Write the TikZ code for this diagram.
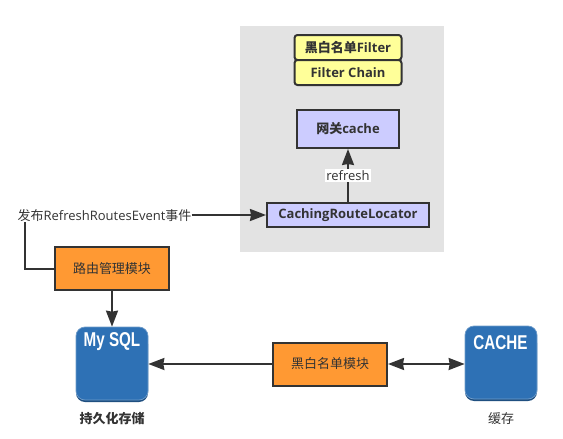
\documentclass[tikz,border=0pt]{standalone}
\usepackage{fontspec}
\usetikzlibrary{arrows.meta,positioning}
\setmainfont{Open Sans}
\newfontfamily\cjk{Noto Sans CJK SC}
\newfontfamily\capfont{Liberation Sans}
\definecolor{ink}{HTML}{333333}
\definecolor{panelgray}{HTML}{E3E3E3}
\definecolor{yel}{HTML}{FFFF99}
\definecolor{lav}{HTML}{CCCCFF}
\definecolor{org}{HTML}{FF9933}
\definecolor{iconblue}{HTML}{2E71B5}
\definecolor{icondark}{HTML}{1F4F80}
\definecolor{iconedge}{HTML}{6F9CC9}
\tikzset{
  x=1pt,y=-1pt,
  box/.style={draw=ink,line width=2pt,inner sep=0pt,anchor=center,text=ink,font=\bfseries\fontsize{13}{15}\selectfont,align=center},
  yelbox/.style={box,fill=yel,rounded corners=3pt,minimum width=107pt,minimum height=25pt},
  lavbox/.style={box,fill=lav},
  orgbox/.style={box,fill=org,minimum width=114pt,minimum height=43pt,font=\cjk\fontsize{13}{15}\selectfont},
  icon/.style={draw=iconedge,line width=.7pt,fill=iconblue,rounded corners=9pt,minimum width=72pt,minimum height=73pt,inner sep=0pt},
  icontext/.style={text=white,font=\capfont\bfseries\fontsize{20}{21}\selectfont,inner sep=0pt},
  plain/.style={text=ink,inner sep=0pt,font=\fontsize{13}{15}\selectfont},
  caption/.style={plain,font=\cjk\bfseries\fontsize{13}{15}\selectfont},
  link/.style={draw=ink,line width=2pt},
  arrow/.style={link,-{Stealth[length=16pt,width=12pt,inset=1pt]}},
  twoway/.style={link,{Stealth[length=16pt,width=12pt,inset=1pt]}-{Stealth[length=16pt,width=12pt,inset=1pt]}},
}
\begin{document}
\begin{tikzpicture}
\useasboundingbox (0,0) rectangle (563,439);
\fill[panelgray] (240,26) rectangle (444,252);
\node[yelbox] (filter) at (348,47.5) {{\cjk 黑白名单}Filter};
\node[yelbox] (chain) at (348,72.5) {Filter Chain};
\node[lavbox,minimum width=102pt,minimum height=38pt] (cache) at (348,129) {{\cjk 网关}cache};
\node[lavbox,minimum width=162pt,minimum height=24pt] (crl) at (348,215) {CachingRouteLocator};
\node[orgbox] (route) at (112,268.5) {路由管理模块};
\node[orgbox] (black) at (330,364) {黑白名单模块};
\node[plain] (event) at (104.5,216) {{\cjk 发布}RefreshRoutesEvent{\cjk 事件}};
% icons
\fill[icondark,rounded corners=9pt] (76,335) rectangle (148,402);
\node[icon] (mysql) at (112,363.5) {};
\node[icontext] (mysqltext) at (112,341.5) {\scalebox{.76}[1]{My SQL}};
\fill[icondark,rounded corners=9pt] (465,334) rectangle (537,401);
\node[icon] (cachebox) at (501,362.5) {};
\node[icontext] (cachetext) at (500.5,343) {\scalebox{.76}[1]{CACHE}};
\node[caption] (mysqlcap) at (112,418.5) {持久化存储};
\node[caption,font=\cjk\fontsize{13}{15}\selectfont] (cachecap) at (501,419) {缓存};
% connectors
\draw[arrow] (crl.north) -- (cache.south) node[midway,fill=white,inner sep=1pt,text=ink,font=\fontsize{13}{15}\selectfont] (refresh) {refresh};
\draw[arrow] (event.east |- crl.west) -- (crl.west);
\coordinate (elbow) at (25,268.5);
\draw[link] (route.west) -- (elbow) -- (elbow |- event.south);
\draw[arrow] (route.south) -- (mysql.north);
\draw[arrow] (black.west) -- (mysql.east |- black.west);
\draw[twoway] (black.east) -- (cachebox.west |- black.east);
\end{tikzpicture}
\end{document}
